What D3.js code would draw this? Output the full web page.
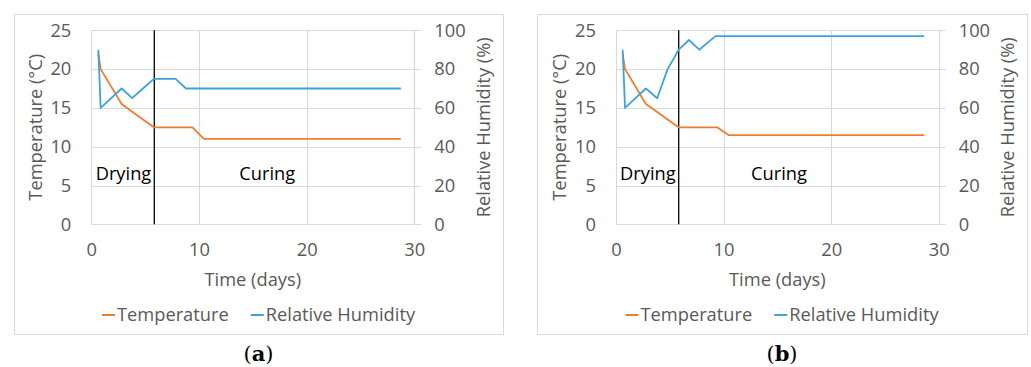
<!DOCTYPE html>
<html><head><meta charset="utf-8">
<script src="https://cdn.jsdelivr.net/npm/d3@7"></script>
<style>body{margin:0;background:#fff;} text{font-family:"Open Sans",sans-serif;}</style>
</head><body><svg id="c" width="1031" height="367"></svg>
<script>
// Panel (a)
const tempDaysA = [0.65, 0.87, 2.82, 3.8, 4.8, 5.82, 9.4, 10.46, 28.75];
const tempA     = [22, 20, 15.5, 14.5, 13.5, 12.5, 12.5, 11, 11];
const rhDaysA   = [0.65, 0.87, 2.82, 3.8, 4.8, 5.82, 7.83, 8.8, 28.75];
const rhA       = [90, 60, 70, 65, 70, 75, 75, 70, 70];
// Panel (b)
const tempDaysB = [0.62, 0.84, 2.78, 3.8, 4.8, 5.83, 9.4, 10.46, 28.65];
const tempB     = [22, 20, 15.5, 14.5, 13.5, 12.5, 12.5, 11.5, 11.5];
const rhDaysB   = [0.62, 0.84, 2.78, 3.83, 4.8, 5.83, 6.78, 7.74, 9.24, 28.65];
const rhB       = [90, 60, 70, 65, 80, 90, 95, 90, 97, 97];
// phase boundary (days)
const boundaryDay = [5.85, 5.83];
const xTicks = [0, 10, 20, 30];
const tempTicks = [0, 5, 10, 15, 20, 25];
const rhTicks = [0, 20, 40, 60, 80, 100];
const seriesNames = ["Temperature", "Relative Humidity"];
const phaseLabels = ["Drying", "Curing"];
const captions = ["a", "b"];

const colors = {temp: "#ED7D31", rh: "#3FA2DB"};
const svg = d3.select("#c");
const FS = 18.3;

function panel(i, box, plot, tD, tV, hD, hV, bday, curingX) {
  const g = svg.append("g");
  g.append("rect").attr("x", box[0] + 0.5).attr("y", box[1] + 0.5)
    .attr("width", box[2] - box[0]).attr("height", box[3] - box[1])
    .attr("fill", "#fff").attr("stroke", "#d9d9d9").attr("stroke-width", 1);

  const x = d3.scaleLinear().domain([0, 30]).range([plot.x0, plot.x1]);
  const yT = d3.scaleLinear().domain([0, 25]).range([plot.y0, plot.y1]);
  const yH = d3.scaleLinear().domain([0, 100]).range([plot.y0, plot.y1]);

  // horizontal grid
  g.append("g").selectAll("line").data(tempTicks).join("line")
    .attr("x1", plot.x0).attr("x2", plot.x1 + 7)
    .attr("y1", d => Math.round(yT(d)) + 0.5).attr("y2", d => Math.round(yT(d)) + 0.5)
    .attr("stroke", "#d9d9d9").attr("stroke-width", 1.2);
  // vertical grid
  g.append("g").selectAll("line").data(xTicks).join("line")
    .attr("x1", d => Math.round(x(d)) + 0.5).attr("x2", d => Math.round(x(d)) + 0.5)
    .attr("y1", plot.y1).attr("y2", plot.y0)
    .attr("stroke", "#d9d9d9").attr("stroke-width", 1.2);

  // axes (D3 axes, styled)
  const axL = g.append("g").attr("transform", `translate(${plot.x0},0)`)
    .call(d3.axisLeft(yT).tickValues(tempTicks).tickSize(0).tickPadding(20));
  const axR = g.append("g").attr("transform", `translate(${plot.x1},0)`)
    .call(d3.axisRight(yH).tickValues(rhTicks).tickSize(0).tickPadding(20));
  const axB = g.append("g").attr("transform", `translate(0,${plot.y0})`)
    .call(d3.axisBottom(x).tickValues(xTicks).tickSize(0).tickPadding(19));
  [axL, axR, axB].forEach(a => {
    a.select(".domain").remove();
    a.selectAll("text").attr("fill", "#595959").style("font-size", FS + "px")
      .style("font-family", "'Open Sans',sans-serif");
  });

  // axis titles
  g.append("text").attr("transform", `translate(${plot.x0 - 56},${(plot.y0 + plot.y1) / 2}) rotate(-90)`)
    .attr("text-anchor", "middle").attr("dy", "0.35em").attr("fill", "#595959")
    .style("font-size", FS + "px").text("Temperature (°C)");
  g.append("text").attr("transform", `translate(${plot.x1 + 69},${(plot.y0 + plot.y1) / 2}) rotate(-90)`)
    .attr("text-anchor", "middle").attr("dy", "0.35em").attr("fill", "#595959")
    .style("font-size", FS + "px").text("Relative Humidity (%)");
  g.append("text").attr("x", (plot.x0 + plot.x1) / 2).attr("y", 280).attr("dy", "0.35em")
    .attr("text-anchor", "middle").attr("fill", "#595959")
    .style("font-size", FS + "px").text("Time (days)");

  // boundary line
  g.append("line").attr("x1", x(bday)).attr("x2", x(bday))
    .attr("y1", plot.y1).attr("y2", plot.y0).attr("stroke", "#000").attr("stroke-width", 1.3);

  // series
  const lt = d3.line().x(d => x(d[0])).y(d => yT(d[1]));
  const lh = d3.line().x(d => x(d[0])).y(d => yH(d[1]));
  g.append("path").datum(d3.zip(tD, tV)).attr("d", lt).attr("fill", "none")
    .attr("stroke", colors.temp).attr("stroke-width", 1.8).attr("stroke-linejoin", "round");
  g.append("path").datum(d3.zip(hD, hV)).attr("d", lh).attr("fill", "none")
    .attr("stroke", colors.rh).attr("stroke-width", 1.8).attr("stroke-linejoin", "round");

  // phase labels
  g.append("text").attr("x", x(bday) - 3).attr("y", 180).attr("text-anchor", "end")
    .attr("fill", "#000").style("font-size", FS + "px").text(phaseLabels[0]);
  g.append("text").attr("x", curingX).attr("y", 180)
    .attr("fill", "#000").style("font-size", FS + "px").text(phaseLabels[1]);

  // legend
  const cx = (box[0] + box[2]) / 2;
  const lg = g.append("g");
  const items = [{n: seriesNames[0], c: colors.temp}, {n: seriesNames[1], c: colors.rh}];
  const tmp = items.map(it => lg.append("text").style("font-size", FS + "px").attr("fill", "#595959").text(it.n));
  const widths = tmp.map(t => t.node().getComputedTextLength());
  const seg = 13, gap = 2, sep = 22;
  const total = widths[0] + widths[1] + 2 * (seg + gap) + sep;
  let xpos = cx - total / 2;
  items.forEach((it, k) => {
    lg.append("line").attr("x1", xpos).attr("x2", xpos + seg).attr("y1", 315).attr("y2", 315)
      .attr("stroke", it.c).attr("stroke-width", 2);
    tmp[k].attr("x", xpos + seg + gap).attr("y", 315).attr("dy", "0.35em");
    xpos += seg + gap + widths[k] + sep;
  });

  // caption
  const cap = g.append("text").attr("x", cx).attr("y", 361).attr("text-anchor", "middle")
    .style("font-family", "'DejaVu Serif','Liberation Serif',serif").style("font-size", "21px").attr("fill", "#000");
  cap.append("tspan").text("(");
  cap.append("tspan").attr("font-weight", "bold").text(captions[i]);
  cap.append("tspan").text(")");
}

panel(0, [14, 14, 503, 334], {x0: 91.3, x1: 414.3, y0: 224.3, y1: 30.3},
  tempDaysA, tempA, rhDaysA, rhA, boundaryDay[0], 239.3);
panel(1, [537, 14, 1027, 334], {x0: 616, x1: 938.7, y0: 224.3, y1: 30.3},
  tempDaysB, tempB, rhDaysB, rhB, boundaryDay[1], 751);
</script></body></html>
